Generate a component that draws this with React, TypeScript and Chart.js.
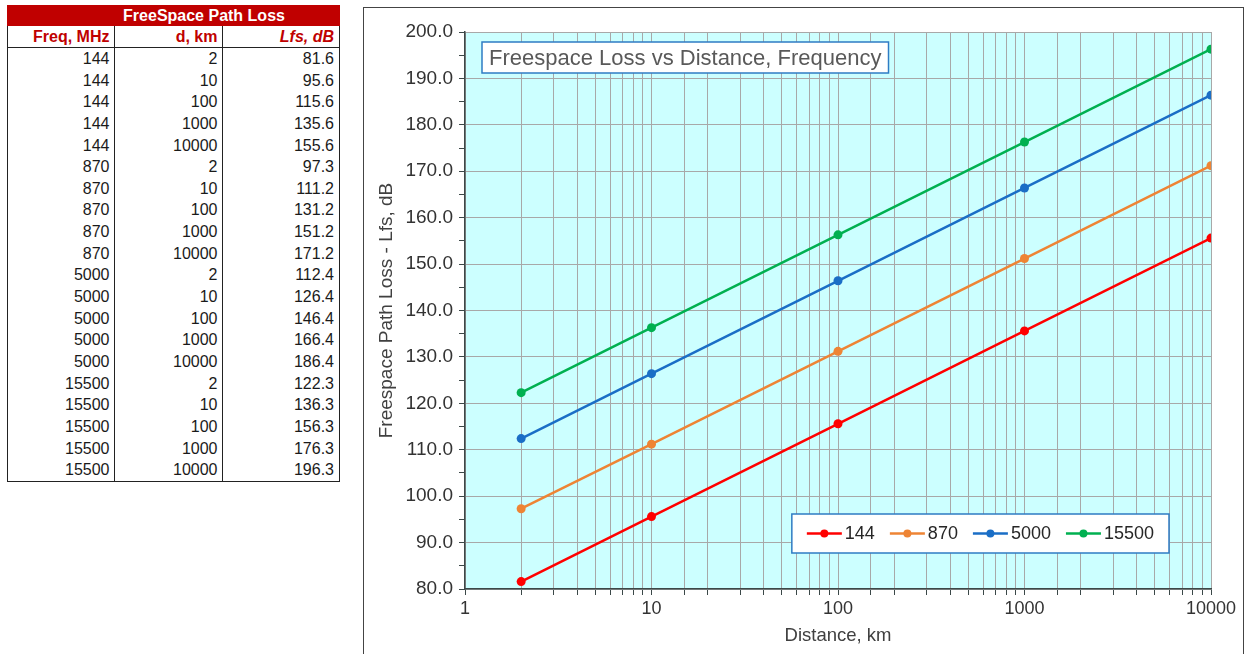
import React, { useEffect, useRef } from 'react';
import { Chart, registerables } from 'chart.js';

Chart.register(...registerables);

const frequencies = [144, 870, 5000, 15500];
const distances = [2, 10, 100, 1000, 10000];
const loss144 = [81.6, 95.6, 115.6, 135.6, 155.6];
const loss870 = [97.3, 111.2, 131.2, 151.2, 171.2];
const loss5000 = [112.4, 126.4, 146.4, 166.4, 186.4];
const loss15500 = [122.3, 136.3, 156.3, 176.3, 196.3];
const seriesLoss = [loss144, loss870, loss5000, loss15500];
const seriesColors = ['#ff0000', '#ee8434', '#1a6ec6', '#00b050'];
const xTickLabels = [1, 10, 100, 1000, 10000];
const yMin = 80;
const yMax = 200;

const FONT = '"Liberation Sans", Arial, sans-serif';
const GRID = '#a8a8a8';
const AXIS = '#3c4848';
const TEXT = '#333333';

const bgPlugin = {
  id: 'plotBg',
  beforeDraw(chart: any) {
    const { ctx, chartArea: a } = chart;
    ctx.save();
    ctx.fillStyle = '#ccffff';
    ctx.fillRect(a.left, a.top, a.right - a.left, a.bottom - a.top);
    ctx.restore();
  },
};

const overlayPlugin = {
  id: 'overlayBoxes',
  afterDraw(chart: any) {
    const { ctx, chartArea: a } = chart;
    ctx.save();
    // Title box
    const title = 'Freespace Loss vs Distance, Frequency';
    ctx.font = `22px ${FONT}`;
    const tw = ctx.measureText(title).width;
    const tx = a.left + 17;
    const ty = a.top + 10;
    const th = 31;
    ctx.fillStyle = '#ffffff';
    ctx.fillRect(tx, ty, tw + 14, th);
    ctx.strokeStyle = '#2e7cc4';
    ctx.lineWidth = 1.5;
    ctx.strokeRect(tx, ty, tw + 14, th);
    ctx.fillStyle = '#595959';
    ctx.textBaseline = 'middle';
    ctx.textAlign = 'left';
    ctx.fillText(title, tx + 7, ty + th / 2 + 1);

    // Legend box
    ctx.font = `18px ${FONT}`;
    const ds = chart.data.datasets;
    const lineLen = 35;
    const gapText = 3;
    const gapItem = 15;
    const padX = 15;
    let total = padX * 2;
    const widths = ds.map((d: any) => ctx.measureText(d.label).width);
    widths.forEach((w: number, i: number) => {
      total += lineLen + gapText + w + (i < ds.length - 1 ? gapItem : 0);
    });
    const lh = 39;
    const lx = a.right - 42 - total;
    const ly = a.bottom - 36 - lh;
    ctx.fillStyle = '#ffffff';
    ctx.fillRect(lx, ly, total, lh);
    ctx.strokeStyle = '#2e7cc4';
    ctx.lineWidth = 1.5;
    ctx.strokeRect(lx, ly, total, lh);
    let cx = lx + padX;
    const cy = ly + lh / 2;
    ds.forEach((d: any, i: number) => {
      ctx.strokeStyle = d.borderColor;
      ctx.lineWidth = 2.5;
      ctx.beginPath();
      ctx.moveTo(cx, cy);
      ctx.lineTo(cx + lineLen, cy);
      ctx.stroke();
      ctx.fillStyle = d.borderColor;
      ctx.beginPath();
      ctx.arc(cx + lineLen / 2, cy, 4, 0, Math.PI * 2);
      ctx.fill();
      ctx.fillStyle = '#262626';
      ctx.fillText(d.label, cx + lineLen + gapText, cy + 1);
      cx += lineLen + gapText + widths[i] + gapItem;
    });
    ctx.restore();
  },
};

function ChartPanel() {
  const ref = useRef<HTMLCanvasElement | null>(null);
  useEffect(() => {
    if (!ref.current) return;
    const chart = new Chart(ref.current, {
      type: 'line',
      data: {
        datasets: frequencies.map((f, fi) => ({
          label: String(f),
          data: distances.map((d, di) => ({ x: d, y: seriesLoss[fi][di] })),
          borderColor: seriesColors[fi],
          backgroundColor: seriesColors[fi],
          borderWidth: 2.5,
          pointRadius: 4.5,
          pointHoverRadius: 4.5,
          pointBorderWidth: 0,
          tension: 0,
          fill: false,
        })),
      },
      options: {
        animation: false,
        responsive: false,
        layout: { padding: { top: 23, right: 31, left: 0, bottom: 0 } },
        plugins: {
          legend: { display: false },
          tooltip: { enabled: false },
          title: { display: false },
        },
        scales: {
          x: {
            type: 'logarithmic',
            min: 1,
            max: 10000,
            grid: {
              color: GRID,
              lineWidth: 1,
              tickLength: 6,
              tickColor: AXIS,
            },
            border: { color: AXIS, width: 1.5 },
            ticks: {
              autoSkip: false,
              maxRotation: 0,
              padding: 3,
              color: TEXT,
              font: { family: FONT, size: 18 },
              callback: (v: any) => (xTickLabels.includes(Number(v)) ? String(v) : ''),
            },
            title: {
              display: true,
              text: 'Distance, km',
              color: '#404040',
              font: { family: FONT, size: 18.5 },
              padding: { top: 0, bottom: 7 },
            },
            afterFit: (s: any) => {
              s.height = 65;
            },
          },
          y: {
            type: 'linear',
            min: yMin,
            max: yMax,
            grid: {
              color: (c: any) => (c.tick && c.tick.value % 10 === 0 ? GRID : 'rgba(0,0,0,0)'),
              lineWidth: 1,
              tickLength: 6,
              tickColor: AXIS,
            },
            border: { color: AXIS, width: 1.5 },
            ticks: {
              stepSize: 5,
              autoSkip: false,
              padding: 6,
              color: TEXT,
              font: { family: FONT, size: 19 },
              callback: (v: any) => (Number(v) % 10 === 0 ? Number(v).toFixed(1) : ''),
            },
            title: {
              display: true,
              text: 'Freespace Path Loss - Lfs, dB',
              color: '#404040',
              font: { family: FONT, size: 19 },
              padding: { top: 10, bottom: 0 },
            },
            afterFit: (s: any) => {
              s.width = 100;
            },
          },
        },
      } as any,
      plugins: [bgPlugin, overlayPlugin],
    });
    return () => chart.destroy();
  }, []);
  return (
    <>
      <div
        style={{
          position: 'absolute',
          left: 363,
          top: 7,
          width: 881,
          height: 700,
          border: '1.5px solid #444',
          boxSizing: 'border-box',
          background: '#fff',
        }}
      />
      <canvas
        ref={ref}
        width={877}
        height={645}
        style={{ position: 'absolute', left: 365, top: 9, width: 877, height: 645 }}
      />
    </>
  );
}

function DataTable() {
  const rows = frequencies.flatMap((f, fi) =>
    distances.map((d, di) => ({ f, d, l: seriesLoss[fi][di] }))
  );
  const colW = [108, 108, 117];
  const border = '1.5px solid #222';
  const cellBase: React.CSSProperties = {
    boxSizing: 'border-box',
    textAlign: 'right',
    paddingRight: 4,
    whiteSpace: 'nowrap',
  };
  const headers = ['Freq, MHz', 'd, km', 'Lfs, dB'];
  return (
    <div
      style={{
        position: 'absolute',
        left: 7,
        top: 5,
        width: 333,
        fontFamily: FONT,
        fontSize: 16,
        color: '#1a1a1a',
      }}
    >
      <div
        style={{
          height: 21,
          lineHeight: '21px',
          background: '#c00000',
          color: '#ffffff',
          fontWeight: 'bold',
          textAlign: 'center',
          paddingLeft: 61,
          boxSizing: 'border-box',
        }}
      >
        FreeSpace Path Loss
      </div>
      <div style={{ display: 'flex', height: 22, borderLeft: border, borderRight: border, borderBottom: border, boxSizing: 'border-box' }}>
        {headers.map((h, i) => (
          <div
            key={h}
            style={{
              ...cellBase,
              width: colW[i] - (i === 0 ? 1.5 : 0) - (i === 2 ? 1.5 : 0),
              borderRight: i < 2 ? border : 'none',
              color: '#c00000',
              fontWeight: 'bold',
              fontStyle: i === 2 ? 'italic' : 'normal',
              lineHeight: '21px',
            }}
          >
            {h}
          </div>
        ))}
      </div>
      <div style={{ borderLeft: border, borderRight: border, borderBottom: border, boxSizing: 'border-box' }}>
        {rows.map((r, ri) => (
          <div key={ri} style={{ display: 'flex', height: 21.65 }}>
            {[String(r.f), String(r.d), r.l.toFixed(1)].map((t, i) => (
              <div
                key={i}
                style={{
                  ...cellBase,
                  width: colW[i] - (i === 0 ? 1.5 : 0) - (i === 2 ? 1.5 : 0),
                  borderRight: i < 2 ? border : 'none',
                  lineHeight: '21.65px',
                }}
              >
                {t}
              </div>
            ))}
          </div>
        ))}
      </div>
    </div>
  );
}

export default function App() {
  return (
    <div
      style={{
        position: 'fixed',
        left: 0,
        top: 0,
        width: 1247,
        height: 654,
        overflow: 'hidden',
        background: '#ffffff',
      }}
    >
      <DataTable />
      <ChartPanel />
    </div>
  );
}
